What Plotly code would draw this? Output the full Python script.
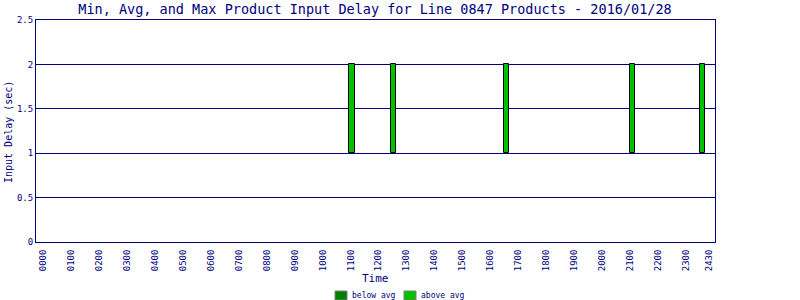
import plotly.graph_objects as go

# Data
times = [11.05, 12.55, 16.56, 21.07, 23.57]          # hour of day (decimal)
min_delay = [1, 1, 1, 1, 1]
max_delay = [2, 2, 2, 2, 2]
tick_vals = list(range(24)) + [23.82]
tick_text = ["%02d00" % h for h in range(24)] + ["2430"]
y_ticks = [0, 0.5, 1, 1.5, 2, 2.5]
y_text = ["0", "0.5", "1", "1.5", "2", "2.5"]
legend_names = ["below avg", "above avg"]
legend_colors = ["#008000", "#00C000"]

NAVY = "#000080"
FONT = "DejaVu Sans Mono"
W, H = 800, 300
L, R, T, B = 36, 85, 20, 58
PW, PH = W - L - R, H - T - B

def px(x):  # pixel x -> paper
    return (x - L) / PW

def py(y):  # pixel y (from top) -> paper
    return (H - B - y) / PH

fig = go.Figure()
fig.add_trace(go.Bar(
    x=times, y=[mx - mn for mn, mx in zip(min_delay, max_delay)], base=min_delay,
    width=0.18, marker=dict(color="#00C000", line=dict(color="black", width=1)),
    showlegend=False, hoverinfo="skip"))

shapes = []
annotations = []
# manual legend
legend_x = [335, 404]
for name, col, lx in zip(legend_names, legend_colors, legend_x):
    shapes.append(dict(type="rect", xref="paper", yref="paper",
                       x0=px(lx), x1=px(lx + 12), y0=py(300), y1=py(291),
                       fillcolor=col, line=dict(color="#808080", width=1)))
    annotations.append(dict(text=name, xref="paper", yref="paper", x=px(lx + 15), y=py(295.5),
                            xanchor="left", yanchor="middle", showarrow=False,
                            font=dict(family=FONT, size=8, color=NAVY)))
annotations.append(dict(text="Time", xref="paper", yref="paper", x=px(375), y=py(278),
                        xanchor="center", yanchor="middle", showarrow=False,
                        font=dict(family=FONT, size=11, color=NAVY)))
annotations.append(dict(text="Input Delay (sec)", xref="paper", yref="paper", x=px(8), y=py(132),
                        xanchor="center", yanchor="middle", showarrow=False, textangle=-90,
                        font=dict(family=FONT, size=10, color=NAVY)))

fig.update_layout(
    width=W, height=H, autosize=False,
    margin=dict(l=L, r=R, t=T, b=B, autoexpand=False),
    paper_bgcolor="white", plot_bgcolor="white",
    font=dict(family=FONT, color=NAVY),
    title=dict(text="Min, Avg, and Max Product Input Delay for Line 0847 Products - 2016/01/28",
               x=px(375), xref="paper", xanchor="center", y=1 - 9 / H, yref="container",
               yanchor="middle",
               font=dict(family=FONT, size=13.5, color=NAVY)),
    bargap=0,
    showlegend=False,
    shapes=shapes, annotations=annotations,
    xaxis=dict(range=[-0.25, 24.03], tickmode="array", tickvals=tick_vals, ticktext=tick_text,
               tickangle=-90, tickfont=dict(family=FONT, size=9, color=NAVY), automargin=False,
               showgrid=False, zeroline=False, showline=True, linecolor=NAVY, linewidth=1,
               mirror=True, ticks="outside", ticklen=3, tickcolor="rgba(0,0,0,0)"),
    yaxis=dict(range=[0, 2.5], tickmode="array", tickvals=y_ticks, ticktext=y_text,
               tickfont=dict(family=FONT, size=9, color=NAVY), automargin=False,
               showgrid=True, gridcolor=NAVY, gridwidth=1, zeroline=False,
               showline=True, linecolor=NAVY, linewidth=1, mirror=True, ticks=""),
)

fig.write_html("out.html")
